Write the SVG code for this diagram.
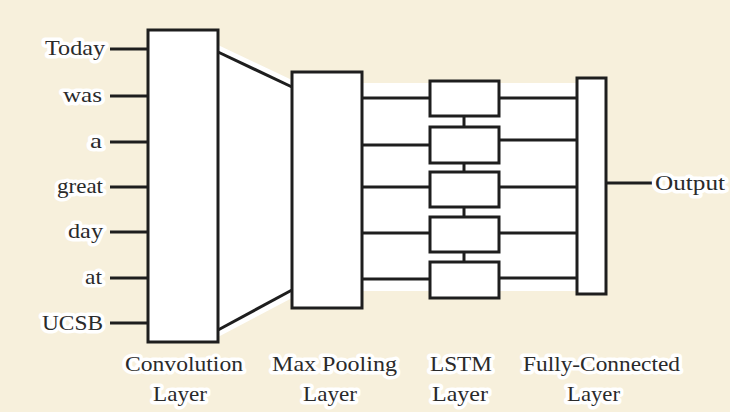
<svg xmlns="http://www.w3.org/2000/svg" width="730" height="412" viewBox="0 0 730 412" font-family="Liberation Serif, DejaVu Serif, serif">
<defs>
<style>
.bg{fill:#f7f0dc}
.wh{fill:#ffffff}
.box{fill:#ffffff;stroke:#1e1e1e;stroke-width:3}
.ln{stroke:#1e1e1e;stroke-width:3;fill:none}
.t{font-size:22px;fill:#2a2a2a;stroke:#ffffff;stroke-width:7;stroke-linejoin:round;paint-order:stroke}
</style>
</defs>
<rect class="bg" x="0" y="0" width="730" height="412"/>
<g id="backdrop">
<polygon class="wh" points="218,45 292,80 292,298 218,337"/>
<rect class="wh" x="362" y="83" width="215" height="208"/>
</g>
<g id="connectors">
<line class="ln" x1="110" y1="49" x2="148" y2="49"/>
<line class="ln" x1="110" y1="96" x2="148" y2="96"/>
<line class="ln" x1="110" y1="142" x2="148" y2="142"/>
<line class="ln" x1="110" y1="187" x2="148" y2="187"/>
<line class="ln" x1="110" y1="232" x2="148" y2="232"/>
<line class="ln" x1="110" y1="278" x2="148" y2="278"/>
<line class="ln" x1="110" y1="323" x2="148" y2="323"/>
<line class="ln" x1="218" y1="52" x2="292" y2="87"/>
<line class="ln" x1="218" y1="330" x2="292" y2="290"/>
<line class="ln" x1="362" y1="98" x2="430" y2="98"/>
<line class="ln" x1="362" y1="145" x2="430" y2="145"/>
<line class="ln" x1="362" y1="187" x2="430" y2="187"/>
<line class="ln" x1="362" y1="233" x2="430" y2="233"/>
<line class="ln" x1="362" y1="279" x2="430" y2="279"/>
<line class="ln" x1="464" y1="116" x2="464" y2="127"/>
<line class="ln" x1="464" y1="163" x2="464" y2="172"/>
<line class="ln" x1="464" y1="207" x2="464" y2="217"/>
<line class="ln" x1="464" y1="252" x2="464" y2="262"/>
<line class="ln" x1="499" y1="98" x2="577" y2="98"/>
<line class="ln" x1="499" y1="140" x2="577" y2="140"/>
<line class="ln" x1="499" y1="187" x2="577" y2="187"/>
<line class="ln" x1="499" y1="233" x2="577" y2="233"/>
<line class="ln" x1="499" y1="278" x2="577" y2="278"/>
<line class="ln" x1="606" y1="183" x2="652" y2="183"/>
</g>
<g id="words">
<text class="t" x="45" y="55" textLength="60" lengthAdjust="spacingAndGlyphs">Today</text>
<text class="t" x="63" y="102" textLength="39" lengthAdjust="spacingAndGlyphs">was</text>
<text class="t" x="90" y="148" textLength="12" lengthAdjust="spacingAndGlyphs">a</text>
<text class="t" x="57" y="193" textLength="46" lengthAdjust="spacingAndGlyphs">great</text>
<text class="t" x="68" y="238" textLength="35" lengthAdjust="spacingAndGlyphs">day</text>
<text class="t" x="85" y="284" textLength="17" lengthAdjust="spacingAndGlyphs">at</text>
<text class="t" x="42" y="330" textLength="61" lengthAdjust="spacingAndGlyphs">UCSB</text>
</g>
<g id="conv">
<rect class="box" x="148" y="30" width="70" height="312"/>
<text class="t" x="125" y="371" textLength="118" lengthAdjust="spacingAndGlyphs">Convolution</text>
<text class="t" x="153" y="401" textLength="54" lengthAdjust="spacingAndGlyphs">Layer</text>
</g>
<g id="pool">
<rect class="box" x="292" y="72" width="70" height="236"/>
<text class="t" x="272" y="371" textLength="125" lengthAdjust="spacingAndGlyphs">Max Pooling</text>
<text class="t" x="303" y="401" textLength="54" lengthAdjust="spacingAndGlyphs">Layer</text>
</g>
<g id="lstm">
<rect id="lstm1" class="box" x="430" y="81" width="69" height="35"/>
<rect id="lstm2" class="box" x="430" y="127" width="69" height="36"/>
<rect id="lstm3" class="box" x="430" y="172" width="69" height="35"/>
<rect id="lstm4" class="box" x="430" y="217" width="69" height="35"/>
<rect id="lstm5" class="box" x="430" y="262" width="69" height="36"/>
<text class="t" x="430" y="371" textLength="62" lengthAdjust="spacingAndGlyphs">LSTM</text>
<text class="t" x="432" y="401" textLength="56" lengthAdjust="spacingAndGlyphs">Layer</text>
</g>
<g id="fc">
<rect class="box" x="577" y="78" width="29" height="216"/>
<text class="t" x="523" y="371" textLength="157" lengthAdjust="spacingAndGlyphs">Fully-Connected</text>
<text class="t" x="567" y="401" textLength="53" lengthAdjust="spacingAndGlyphs">Layer</text>
</g>
<g id="output">
<text class="t" x="655" y="190" textLength="70" lengthAdjust="spacingAndGlyphs">Output</text>
</g>
</svg>
